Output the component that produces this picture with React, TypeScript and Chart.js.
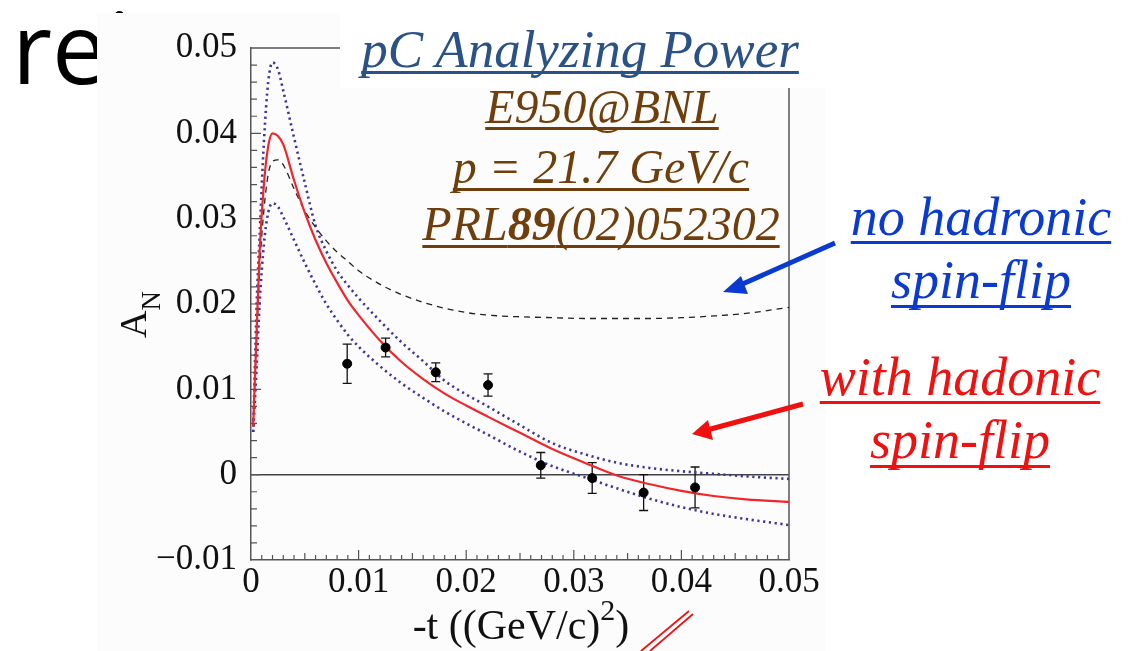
import React, { useEffect, useRef } from 'react';
import { Chart, registerables } from 'chart.js';

Chart.register(...registerables);

// -t values ((GeV/c)^2) at which the model curves were read
const T_GRID = [0.0002, 0.0005, 0.0008, 0.0012, 0.0016, 0.002, 0.0025, 0.003, 0.004, 0.005, 0.006, 0.007, 0.008, 0.009, 0.010, 0.012, 0.014, 0.016, 0.018, 0.020, 0.022, 0.025, 0.028, 0.031, 0.034, 0.037, 0.040, 0.043, 0.046, 0.050];
// with hadronic spin-flip (red solid)
const AN_WITH_HSF = [0.0056, 0.016, 0.026, 0.034, 0.0385, 0.0400, 0.0397, 0.0387, 0.0345, 0.0307, 0.0275, 0.0248, 0.0225, 0.0204, 0.0187, 0.0157, 0.0132, 0.0112, 0.0095, 0.0081, 0.0068, 0.0049, 0.0030, 0.0014, -0.0001, -0.0011, -0.0019, -0.0025, -0.0029, -0.0032];
// no hadronic spin-flip (black dashed)
const AN_NO_HSF = [0.006, 0.015, 0.024, 0.031, 0.0352, 0.0367, 0.0369, 0.0363, 0.0335, 0.0309, 0.0290, 0.0274, 0.0261, 0.0250, 0.0239, 0.0223, 0.0211, 0.0202, 0.0195, 0.0190, 0.0187, 0.0185, 0.0184, 0.0183, 0.0183, 0.0183, 0.0184, 0.0186, 0.0189, 0.0196];
// error band (blue dotted)
const AN_UPPER = [0.005, 0.019, 0.028, 0.039, 0.0460, 0.0483, 0.0475, 0.0450, 0.0395, 0.0342, 0.0292, 0.0262, 0.0239, 0.0222, 0.0207, 0.0180, 0.0155, 0.0133, 0.0110, 0.0094, 0.0080, 0.0058, 0.0037, 0.0024, 0.0014, 0.0008, 0.0004, 0.0001, -0.0002, -0.0005];
const AN_LOWER = [0.005, 0.012, 0.020, 0.027, 0.0307, 0.0318, 0.0314, 0.0302, 0.0275, 0.0248, 0.0223, 0.0200, 0.0181, 0.0164, 0.0150, 0.0127, 0.0107, 0.0090, 0.0074, 0.0060, 0.0047, 0.0027, 0.0010, -0.0003, -0.0016, -0.0028, -0.0038, -0.0046, -0.0052, -0.0059];

// E950 measurements
const DATA_T = [0.00894, 0.01251, 0.01717, 0.02203, 0.02693, 0.03171, 0.03649, 0.04127];
const DATA_AN = [0.0130, 0.0149, 0.0120, 0.0105, 0.0011, -0.0004, -0.0021, -0.0015];
const DATA_ERR = [0.0023, 0.0011, 0.0011, 0.0013, 0.0015, 0.0018, 0.0021, 0.0024];

const X_MIN = 0, X_MAX = 0.05, Y_MIN = -0.01, Y_MAX = 0.05, STEP = 0.01;

const SERIF = "'Liberation Serif', 'Times New Roman', serif";

function fmt(v: number): string {
  const r = Math.round(v * 100) / 100;
  if (Math.abs(r) < 1e-9) return '0';
  return (r < 0 ? '\u2212' : '') + Math.abs(r).toFixed(2);
}

const decorPlugin = {
  id: 'decor',
  beforeDatasetsDraw(chart: any) {
    const { ctx, chartArea: a, scales } = chart;
    const x = scales.x, y = scales.y;
    ctx.save();
    ctx.strokeStyle = '#555';
    ctx.lineWidth = 1.5;
    ctx.beginPath();
    ctx.moveTo(a.left, a.top);
    ctx.lineTo(a.right, a.top);
    ctx.lineTo(a.right, a.bottom);
    ctx.stroke();
    ctx.lineWidth = 1.2;
    ctx.beginPath();
    for (let i = 1; i < 50; i++) {
      const len = i % 10 === 0 ? 10 : i % 5 === 0 ? 7 : 5;
      const px = x.getPixelForValue(i / 1000);
      ctx.moveTo(px, a.bottom);
      ctx.lineTo(px, a.bottom - len);
    }
    for (let i = -4; i < 25; i++) {
      const len = i % 5 === 0 ? 10 : 6;
      const py = y.getPixelForValue(i * 0.002);
      ctx.moveTo(a.left, py);
      ctx.lineTo(a.left + len, py);
    }
    ctx.stroke();
    // error bars
    ctx.strokeStyle = '#111';
    ctx.lineWidth = 1.3;
    ctx.beginPath();
    DATA_T.forEach((t, i) => {
      const px = x.getPixelForValue(t);
      const y1 = y.getPixelForValue(DATA_AN[i] + DATA_ERR[i]);
      const y2 = y.getPixelForValue(DATA_AN[i] - DATA_ERR[i]);
      ctx.moveTo(px, y1); ctx.lineTo(px, y2);
      ctx.moveTo(px - 4.5, y1); ctx.lineTo(px + 4.5, y1);
      ctx.moveTo(px - 4.5, y2); ctx.lineTo(px + 4.5, y2);
    });
    ctx.stroke();
    ctx.restore();
  },
};

function curve(ys: number[]) {
  return T_GRID.map((t, i) => ({ x: t, y: ys[i] }));
}

export default function App() {
  const ref = useRef<HTMLCanvasElement | null>(null);
  useEffect(() => {
    if (!ref.current) return;
    const chart = new Chart(ref.current, {
      type: 'line',
      data: {
        datasets: [
          {
            type: 'scatter',
            label: 'E950 data',
            data: DATA_T.map((t, i) => ({ x: t, y: DATA_AN[i] })),
            pointRadius: 4.5,
            pointBackgroundColor: '#000',
            pointBorderColor: '#000',
            order: 0,
          } as any,
          {
            label: 'with hadronic spin-flip',
            data: curve(AN_WITH_HSF),
            borderColor: '#f0262b',
            borderWidth: 2.2,
            pointRadius: 0,
            cubicInterpolationMode: 'monotone',
            order: 1,
          },
          {
            label: 'no hadronic spin-flip',
            data: curve(AN_NO_HSF),
            borderColor: '#222',
            borderWidth: 1.3,
            borderDash: [6, 5],
            pointRadius: 0,
            cubicInterpolationMode: 'monotone',
            order: 2,
          },
          {
            label: 'upper',
            data: curve(AN_UPPER),
            borderColor: '#3d3796',
            borderWidth: 2.6,
            borderDash: [2.2, 3.6],
            pointRadius: 0,
            cubicInterpolationMode: 'monotone',
            order: 3,
          },
          {
            label: 'lower',
            data: curve(AN_LOWER),
            borderColor: '#3d3796',
            borderWidth: 2.6,
            borderDash: [2.2, 3.6],
            pointRadius: 0,
            cubicInterpolationMode: 'monotone',
            order: 3,
          },
        ],
      },
      options: {
        animation: false,
        responsive: false,
        devicePixelRatio: 1,
        layout: { padding: { left: 0, top: 48, right: 342, bottom: 0 } },
        plugins: { legend: { display: false }, tooltip: { enabled: false } },
        scales: {
          x: {
            type: 'linear',
            min: X_MIN,
            max: X_MAX,
            afterFit: (s: any) => { s.height = 91; },
            grid: { display: false, drawTicks: false },
            border: { display: true, color: '#555', width: 1.5 },
            ticks: {
              stepSize: STEP,
              autoSkip: false,
              maxRotation: 0,
              padding: 2,
              color: '#111',
              font: { family: SERIF, size: 35 },
              callback: (v: any) => fmt(Number(v)),
            },
          },
          y: {
            type: 'linear',
            min: Y_MIN,
            max: Y_MAX,
            afterFit: (s: any) => { s.width = 251; },
            grid: {
              drawTicks: false,
              lineWidth: 1.5,
              color: (c: any) => (c.tick && Math.abs(c.tick.value) < 1e-9 ? '#444' : 'rgba(0,0,0,0)'),
            },
            border: { display: true, color: '#555', width: 1.5 },
            ticks: {
              stepSize: STEP,
              autoSkip: false,
              padding: 14,
              color: '#111',
              font: { family: SERIF, size: 35 },
              callback: (v: any) => fmt(Number(v)),
            },
          },
        },
      },
      plugins: [decorPlugin],
    } as any);
    return () => chart.destroy();
  }, []);

  const ann = (extra: any) => ({
    position: 'absolute' as const,
    width: 600,
    textAlign: 'center' as const,
    fontFamily: SERIF,
    fontStyle: 'italic',
    whiteSpace: 'nowrap' as const,
    textDecoration: 'underline',
    textDecorationSkipInk: 'none',
    ...extra,
  });
  // baseline -> top for line-height = font size: top = baseline - 0.8375*F
  const line = (cx: number, baseline: number, size: number, color: string, thick: number, offset: number) =>
    ann({
      left: cx - 300,
      top: baseline - 0.8375 * size,
      fontSize: size,
      lineHeight: `${size}px`,
      color,
      textDecorationThickness: `${thick}px`,
      textUnderlineOffset: `${offset}px`,
    });

  const BROWN = '#6e3f0c';
  const BLUE = '#0a3ad0';
  const RED = '#f01010';

  return (
    <div style={{ position: 'fixed', left: 0, top: 0, width: 1131, height: 651, background: '#fff', overflow: 'hidden' }}>
      <svg width={1131} height={651} style={{ position: 'absolute', left: 0, top: 0 }}>
        <text x={12} y={84} fontFamily="'Open Sans', 'Noto Sans', sans-serif" fontSize={98} fill="#000">rei</text>
        <rect x={97} y={13} width={728} height={638} fill="#fcfcfc" />
      </svg>
      <canvas ref={ref} width={1131} height={651} style={{ position: 'absolute', left: 0, top: 0, width: 1131, height: 651 }} />
      <div style={{ position: 'absolute', left: 340, top: 0, width: 485, height: 88, background: '#fff' }} />
      <div style={line(580, 67, 53, '#2b5287', 3, 4)}>pC Analyzing Power</div>
      <div style={line(602, 123, 48, BROWN, 3, 4)}>E950@BNL</div>
      <div style={line(601, 183, 48, BROWN, 3, 5)}>p = 21.7 GeV/c</div>
      <div style={line(601, 240, 48, BROWN, 3, 5)}>PRL<b>89</b>(02)052302</div>
      <div style={line(981, 235, 54, BLUE, 3, 6)}>no hadronic</div>
      <div style={line(981, 298, 54, BLUE, 3, 7)}>spin-flip</div>
      <div style={line(960, 395, 54, RED, 3, 6)}>with hadonic</div>
      <div style={line(960, 458, 54, RED, 3, 7)}>spin-flip</div>
      <svg width={1131} height={651} style={{ position: 'absolute', left: 0, top: 0, pointerEvents: 'none' }}>
        <line x1={835} y1={243} x2={738} y2={286} stroke={BLUE} strokeWidth={5} />
        <polygon points="723,292 741,276 748,294" fill={BLUE} />
        <line x1={803} y1={404} x2={707} y2={430} stroke={RED} strokeWidth={5} />
        <polygon points="692,434 708,420 713,440" fill={RED} />
        <line x1={641} y1={651} x2={689} y2={611} stroke={RED} strokeWidth={1.8} />
        <line x1={650} y1={651} x2={693} y2={614} stroke={RED} strokeWidth={1.8} />
        <text transform="translate(146,338) rotate(-90)" fontFamily={SERIF} fontSize={38} fill="#111">
          A<tspan fontSize={27} dy={14}>N</tspan>
        </text>
        <text x={521} y={639} textAnchor="middle" fontFamily={SERIF} fontSize={42} fill="#111">
          -t ((GeV/c)<tspan fontSize={30} dy={-19}>2</tspan><tspan dy={19}>)</tspan>
        </text>
      </svg>
    </div>
  );
}
